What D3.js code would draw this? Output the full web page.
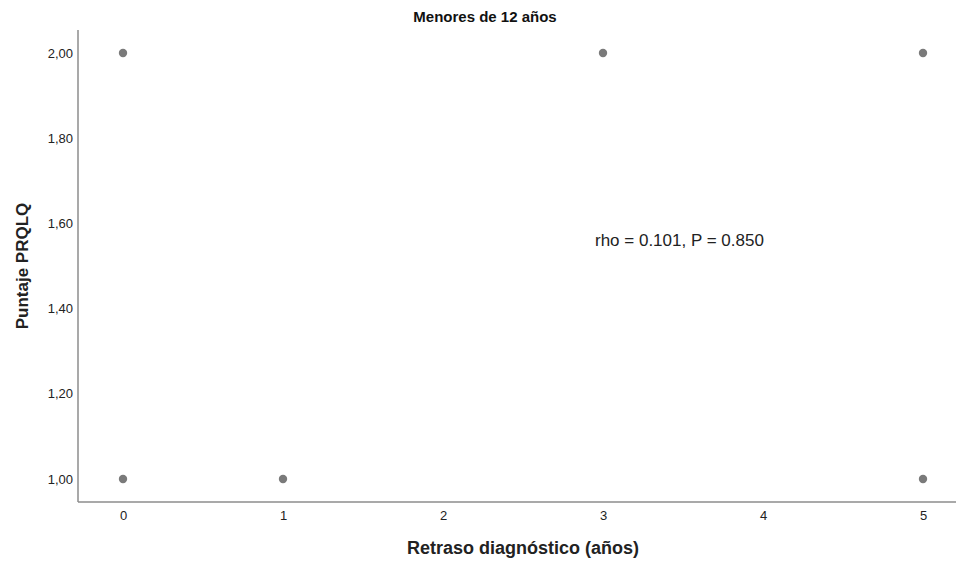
<!DOCTYPE html>
<html>
<head>
<meta charset="utf-8">
<script src="https://cdn.jsdelivr.net/npm/d3@7"></script>
<style>
  html, body { margin: 0; padding: 0; background: #fff; }
  svg { display: block; font-family: "Liberation Sans", Arial, sans-serif; }
</style>
</head>
<body>
<svg id="chart" width="956" height="562"></svg>
<script>
// Retraso diagnóstico vs. puntaje PRQLQ (menores de 12 años)
const retraso = [0, 0, 1, 3, 5, 5];
const puntaje = [2.00, 1.00, 1.00, 2.00, 2.00, 1.00];
const xTicks = [0, 1, 2, 3, 4, 5];
const yTicks = [1.00, 1.20, 1.40, 1.60, 1.80, 2.00];
const titulo = "Menores de 12 años";
const etiquetaX = "Retraso diagnóstico (años)";
const etiquetaY = "Puntaje PRQLQ";
const anotacion = "rho = 0.101, P = 0.850";

(function () {
  const svg = d3.select("#chart");
  const mLeft = 78, mRight = 958, mTop = 30, mBottom = 502;

  const x = d3.scaleLinear().domain([-0.28125, 5.21875]).range([mLeft, mRight]);
  const y = d3.scaleLinear().domain([0.946, 2.054]).range([mBottom, mTop]);

  const axisColor = "#8c8c8c";
  const fmt = d => d.toFixed(2).replace(".", ",");

  // Y axis
  const yAxis = svg.append("g").attr("transform", `translate(${mLeft},0)`)
    .call(d3.axisLeft(y).tickValues(yTicks).tickSize(0).tickPadding(5).tickFormat(fmt));
  yAxis.select(".domain").attr("stroke", axisColor).attr("stroke-width", 1.5)
    .attr("d", `M0,${mTop}V${mBottom}`);
  yAxis.selectAll("text").attr("font-size", 13).attr("fill", "#222")
    .attr("font-family", "Liberation Sans, Arial, sans-serif");

  // X axis
  const xAxis = svg.append("g").attr("transform", `translate(0,${mBottom})`)
    .call(d3.axisBottom(x).tickValues(xTicks).tickSize(0).tickPadding(9).tickFormat(d3.format("d")));
  xAxis.select(".domain").attr("stroke", axisColor).attr("stroke-width", 1.5)
    .attr("d", `M${mLeft},0H${mRight}`);
  xAxis.selectAll("text").attr("font-size", 13).attr("fill", "#222")
    .attr("font-family", "Liberation Sans, Arial, sans-serif");

  // Points
  svg.append("g").selectAll("circle")
    .data(retraso.map((d, i) => [d, puntaje[i]]))
    .join("circle")
    .attr("cx", d => x(d[0]))
    .attr("cy", d => y(d[1]))
    .attr("r", 4.2)
    .attr("fill", "#7a7a7a");

  // Title
  svg.append("text").attr("x", 485).attr("y", 22).attr("text-anchor", "middle")
    .attr("font-size", 15).attr("font-weight", "bold").attr("fill", "#111").text(titulo);

  // Axis titles
  svg.append("text").attr("x", 523).attr("y", 554).attr("text-anchor", "middle")
    .attr("font-size", 18).attr("font-weight", "bold").attr("fill", "#222").text(etiquetaX);

  svg.append("text").attr("transform", `translate(28,266) rotate(-90)`).attr("text-anchor", "middle")
    .attr("font-size", 17).attr("font-weight", "bold").attr("fill", "#222").text(etiquetaY);

  // Correlation annotation
  svg.append("text").attr("x", 595).attr("y", 246)
    .attr("font-size", 17).attr("fill", "#222").text(anotacion);
})();
</script>
</body>
</html>
